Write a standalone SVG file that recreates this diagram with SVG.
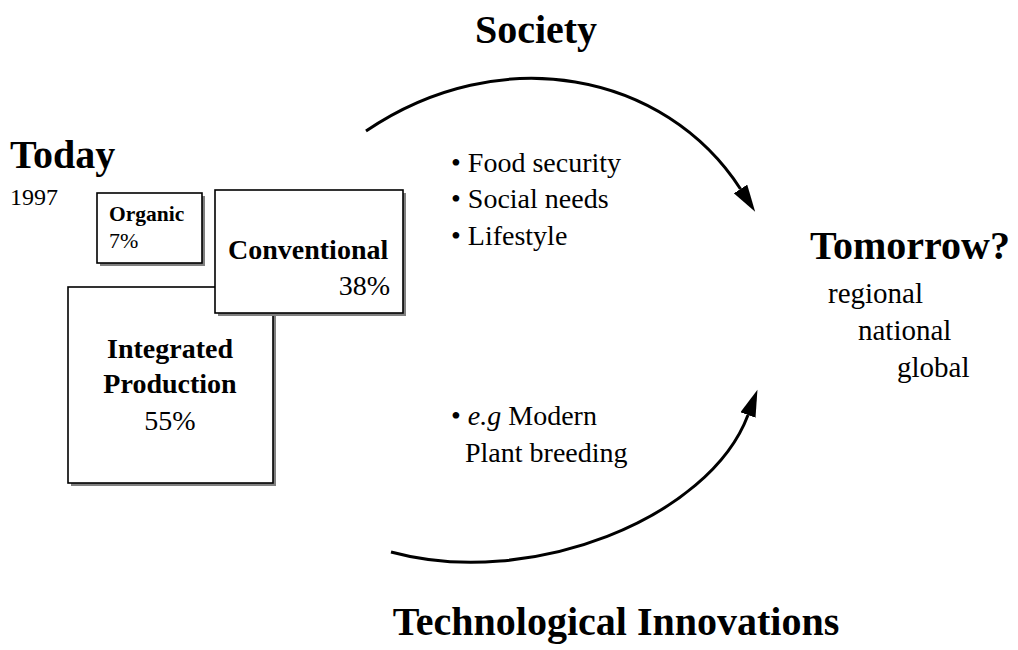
<svg xmlns="http://www.w3.org/2000/svg" width="1018" height="650" viewBox="0 0 1018 650">
  <style>
    text { font-family: "Liberation Serif", "Times New Roman", serif; fill: #000; }
    .title { font-size: 40px; font-weight: bold; }
    .label { font-size: 28px; }
    .boxlabel { font-size: 28px; font-weight: bold; }
    .small { font-size: 22px; }
    .box { fill: #fff; stroke: #000; stroke-width: 1.6; }
    .shadow { fill: #808080; }
    .arc { fill: none; stroke: #000; stroke-width: 3; }
  </style>
  <defs>
    <marker id="head" markerUnits="userSpaceOnUse" markerWidth="30" markerHeight="20" refX="0" refY="8" orient="auto">
      <path d="M0,0 L27,8 L0,16 Z" fill="#000"/>
    </marker>
  </defs>

  <rect width="1018" height="650" fill="#fff"/>

  <!-- headings -->
  <text class="title" x="536" y="43" text-anchor="middle">Society</text>
  <text class="title" x="616" y="635" text-anchor="middle" font-size="39">Technological Innovations</text>

  <g id="today">
    <text class="title" x="10" y="168">Today</text>
    <text x="10" y="205" font-size="24">1997</text>
  </g>

  <g id="organic">
    <rect class="shadow" x="100" y="196" width="105" height="70"/>
    <rect class="box" x="97" y="193" width="105" height="70"/>
    <text x="109" y="221" font-size="21.5" font-weight="bold">Organic</text>
    <text class="small" x="109" y="248">7%</text>
  </g>

  <g id="integrated">
    <rect class="shadow" x="71" y="290" width="205" height="196"/>
    <rect class="box" x="68" y="287" width="205" height="196"/>
    <text class="boxlabel" x="170" y="358" text-anchor="middle">Integrated</text>
    <text class="boxlabel" x="170" y="393" text-anchor="middle">Production</text>
    <text class="label" x="170" y="430" text-anchor="middle">55%</text>
  </g>

  <g id="conventional">
    <rect class="shadow" x="218" y="193" width="188" height="123"/>
    <rect class="box" x="215" y="190" width="188" height="123"/>
    <text class="boxlabel" x="228" y="259">Conventional</text>
    <text class="label" x="390" y="295" text-anchor="end">38%</text>
  </g>

  <g id="society-factors">
    <text class="label" x="451" y="172">• Food security</text>
    <text class="label" x="451" y="208">• Social needs</text>
    <text class="label" x="451" y="245">• Lifestyle</text>
  </g>

  <g id="innovation-factors">
    <text class="label" x="451" y="425">• <tspan font-style="italic">e.g</tspan> Modern</text>
    <text class="label" x="465" y="462">Plant breeding</text>
  </g>

  <g id="tomorrow">
    <text class="title" x="810" y="259">Tomorrow?</text>
    <text x="828" y="303" font-size="29">regional</text>
    <text x="858" y="340" font-size="29">national</text>
    <text x="897" y="377" font-size="29">global</text>
  </g>

  <g id="connectors">
    <path class="arc" d="M366,131 C500,40 665,72 740.5,189" marker-end="url(#head)"/>
    <path class="arc" d="M391,552 C530,590 709.5,518 748,415" marker-end="url(#head)"/>
  </g>
</svg>
